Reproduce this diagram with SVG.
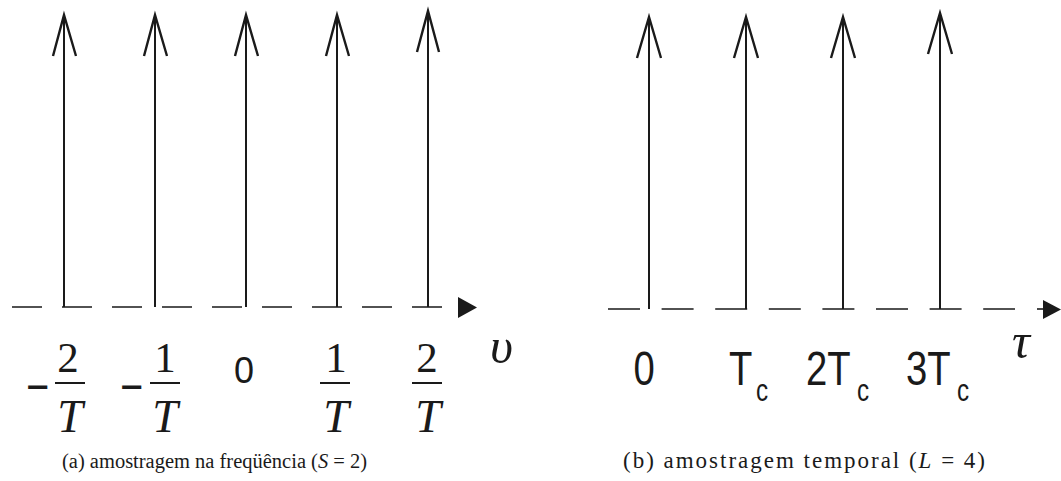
<svg xmlns="http://www.w3.org/2000/svg" width="1061" height="481" viewBox="0 0 1061 481">
<style>
.stem{stroke:#1a1a1a;stroke-width:2;fill:none}
.barb{stroke:#1a1a1a;stroke-width:2.4;fill:none;stroke-linejoin:miter}
.axis{stroke:#1a1a1a;stroke-width:1.6;fill:none}
.bar{stroke:#1a1a1a;stroke-width:2;fill:none}
.num{font-family:"Liberation Serif",serif;font-size:43px;fill:#1a1a1a;text-anchor:middle}
.den{font-family:"Liberation Serif",serif;font-style:italic;font-size:46px;fill:#1a1a1a;text-anchor:middle}
.minus{font-family:"Liberation Sans",sans-serif;font-size:48px;fill:#1a1a1a}
.sans{font-family:"Liberation Sans",Arial,sans-serif;fill:#1a1a1a}
.greek{font-family:"Liberation Serif",serif;font-style:italic;font-size:50px;fill:#1a1a1a}
.cap{font-family:"Liberation Serif",serif;fill:#1a1a1a}
</style>
<rect width="1061" height="481" fill="#fff"/>

<g id="connectors">
  <line class="axis" x1="12" y1="307" x2="442" y2="307" stroke-dasharray="30 20"/>
  <polygon points="458,297 477,307.5 458,318" fill="#1a1a1a"/>
  <line class="axis" x1="608" y1="309" x2="1015" y2="309" stroke-dasharray="32 21.6"/>
  <line class="axis" x1="1037" y1="309" x2="1044" y2="309"/>
  <polygon points="1043,300 1061,309.5 1043,319" fill="#1a1a1a"/>
</g>

<g id="a-m2">
  <line class="stem" x1="64" y1="16" x2="64" y2="307"/>
  <polyline class="barb" points="53,56 64,15 76,56"/>
  <text class="minus" x="26" y="403" textLength="23" lengthAdjust="spacingAndGlyphs">−</text>
  <text class="num" x="68" y="372">2</text>
  <line class="bar" x1="55" y1="383" x2="85" y2="383"/>
  <text class="den" x="70" y="432">T</text>
</g>
<g id="a-m1">
  <line class="stem" x1="155" y1="16" x2="155" y2="307"/>
  <polyline class="barb" points="144,56 155,15 167,56"/>
  <text class="minus" x="120" y="403" textLength="23" lengthAdjust="spacingAndGlyphs">−</text>
  <text class="num" x="165" y="372">1</text>
  <line class="bar" x1="150" y1="383" x2="180" y2="383"/>
  <text class="den" x="165" y="432">T</text>
</g>
<g id="a-0">
  <line class="stem" x1="246" y1="16" x2="246" y2="307"/>
  <polyline class="barb" points="235,56 246,15 258,56"/>
  <text class="sans" x="244" y="383" font-size="36" text-anchor="middle">0</text>
</g>
<g id="a-p1">
  <line class="stem" x1="337" y1="16" x2="337" y2="307"/>
  <polyline class="barb" points="326,56 337,15 349,56"/>
  <text class="num" x="336" y="372">1</text>
  <line class="bar" x1="320" y1="383" x2="350" y2="383"/>
  <text class="den" x="336" y="432">T</text>
</g>
<g id="a-p2">
  <line class="stem" x1="428" y1="12" x2="428" y2="307"/>
  <polyline class="barb" points="417,52 428,11 439,52"/>
  <text class="num" x="427" y="372">2</text>
  <line class="bar" x1="412" y1="383" x2="442" y2="383"/>
  <text class="den" x="428" y="432">T</text>
</g>
<g id="a-axis-label">
  <text class="greek" x="490" y="363">υ</text>
</g>
<g id="caption-a">
  <text class="cap" x="62" y="468" font-size="20.5" textLength="305" lengthAdjust="spacing">(a) amostragem na freqüência (<tspan font-style="italic">S</tspan> = 2)</text>
</g>

<g id="b-0">
  <line class="stem" x1="649" y1="18" x2="649" y2="309"/>
  <polyline class="barb" points="637,58 649,17 661,58"/>
  <text class="sans" font-size="49" transform="translate(633.5,385) scale(0.78,1)">0</text>
</g>
<g id="b-1">
  <line class="stem" x1="746" y1="18" x2="746" y2="309"/>
  <polyline class="barb" points="734,58 746,17 758,58"/>
  <text class="sans" font-size="49" transform="translate(729,385) scale(0.78,1)">T</text>
  <text class="sans" font-size="31" transform="translate(756,401) scale(0.78,1)">c</text>
</g>
<g id="b-2">
  <line class="stem" x1="843" y1="18" x2="843" y2="309"/>
  <polyline class="barb" points="831,58 843,17 855,58"/>
  <text class="sans" font-size="49" transform="translate(806,385) scale(0.78,1)">2T</text>
  <text class="sans" font-size="31" transform="translate(857,401) scale(0.78,1)">c</text>
</g>
<g id="b-3">
  <line class="stem" x1="940" y1="14" x2="940" y2="309"/>
  <polyline class="barb" points="928,54 940,13 952,54"/>
  <text class="sans" font-size="49" transform="translate(906,385) scale(0.78,1)">3T</text>
  <text class="sans" font-size="31" transform="translate(957,401) scale(0.78,1)">c</text>
</g>
<g id="b-axis-label">
  <text class="greek" x="1012" y="358" font-size="46">τ</text>
</g>
<g id="caption-b">
  <text class="cap" x="623" y="468" font-size="23" textLength="362" lengthAdjust="spacing">(b) amostragem temporal (<tspan font-style="italic">L</tspan> = 4)</text>
</g>
</svg>
